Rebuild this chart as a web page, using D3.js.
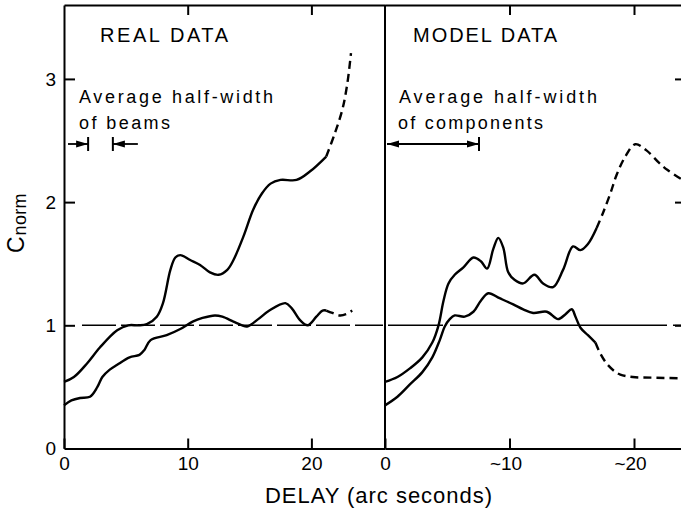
<!DOCTYPE html>
<html><head><meta charset="utf-8">
<script src="https://cdn.jsdelivr.net/npm/d3@7"></script>
<style>body{margin:0;background:#fff}svg{display:block}text{font-family:"Liberation Sans",Arial,sans-serif;fill:#000}</style>
</head><body><svg id="c" width="681" height="509"></svg>
<script>
// ---- data ----
const yTicks = [0, 1, 2, 3];
const leftXTicks = [0, 10, 20];
const leftXLabels = ["0", "10", "20"];
const rightXTicks = [0, 10, 20];
const rightXLabels = ["0", "~10", "~20"];
const panelTitles = ["REAL DATA", "MODEL DATA"];
const beamBars = [1.95, 3.95];       // half-width of beams markers (arcsec)
const componentBar = 7.55;            // half-width of components marker
const refLevel = 1;

const realUpperSolid = [[0,0.54],[0.8,0.58],[1.86,0.69],[2.9,0.82],[4.3,0.96],[5.2,1.0],[6.0,1.0],[6.7,1.01],[7.5,1.07],[8.0,1.18],[8.6,1.45],[9.0,1.55],[9.4,1.57],[10.2,1.53],[11.0,1.49],[11.8,1.43],[12.5,1.41],[13.2,1.45],[13.7,1.53],[14.5,1.72],[15.3,1.94],[16.0,2.07],[16.7,2.15],[17.5,2.18],[18.8,2.18],[19.9,2.25],[21.2,2.37]];
const realUpperDash = [[21.2,2.37],[21.9,2.56],[22.5,2.75],[22.9,2.96],[23.2,3.21]];
const realLowerSolid = [[0,0.35],[0.6,0.39],[1.3,0.41],[2.1,0.42],[2.7,0.5],[3.1,0.58],[3.7,0.64],[4.3,0.68],[5.3,0.74],[6.1,0.76],[6.5,0.8],[7.0,0.88],[8.3,0.92],[9.4,0.97],[10.4,1.03],[11.2,1.06],[12.2,1.08],[12.8,1.07],[13.7,1.03],[14.4,1.0],[14.8,0.99],[15.7,1.05],[16.6,1.12],[17.9,1.18],[18.4,1.14],[19.1,1.04],[19.7,1.0],[20.4,1.07],[20.9,1.12],[21.2,1.12]];
const realLowerDash = [[21.2,1.12],[21.7,1.10],[22.3,1.08],[22.8,1.09],[23.3,1.12]];

const modelUpperSolid = [[0,0.54],[1,0.58],[2,0.65],[3,0.74],[3.8,0.86],[4.3,1.0],[4.7,1.2],[5.1,1.34],[5.6,1.41],[6.3,1.47],[7.1,1.55],[7.7,1.52],[8.2,1.46],[8.7,1.62],[9.1,1.71],[9.5,1.63],[9.9,1.43],[10.4,1.37],[11.1,1.34],[12.0,1.41],[12.7,1.34],[13.5,1.31],[14.3,1.45],[15.1,1.64],[15.7,1.61],[16.3,1.66],[17.0,1.79]];
const modelUpperDash = [[17.0,1.79],[17.5,1.91],[18.1,2.07],[18.6,2.22],[19.3,2.37],[20.1,2.47],[21.0,2.42],[22.0,2.32],[22.7,2.26],[23.9,2.18]];
const modelLowerSolid = [[0,0.35],[1,0.42],[2,0.52],[3,0.62],[3.8,0.74],[4.4,0.88],[4.8,0.99],[5.2,1.05],[5.6,1.08],[6.4,1.07],[7.1,1.11],[7.7,1.2],[8.3,1.26],[9.2,1.22],[10.3,1.17],[11.1,1.13],[11.9,1.1],[13.0,1.11],[13.9,1.05],[14.5,1.09],[15.0,1.13],[15.3,1.07],[15.7,0.98],[16.3,0.92],[16.9,0.86]];
const modelLowerDash = [[16.9,0.86],[17.3,0.77],[17.8,0.69],[18.4,0.63],[18.9,0.6],[19.9,0.58],[21.5,0.575],[23.9,0.57]];

// ---- layout ----
const svg = d3.select("#c");
const X0 = 64, XD = 385, XR = 682, YT = 5, YB = 448.5;
const y = d3.scaleLinear().domain([0, 3.6]).range([YB, YT]);
const xL = d3.scaleLinear().domain([0, (XD - X0) / 12.37]).range([X0, XD]);
const xR = d3.scaleLinear().domain([0, (XR - XD) / 12.45]).range([XD, XR]);

const axisStyle = g => {
  g.selectAll("path,line").attr("stroke", "#000").attr("stroke-width", 2);
  g.selectAll("text").attr("font-size", 19).attr("font-family", "Liberation Sans, Arial, sans-serif");
};

// bottom axes
svg.append("g").attr("transform", `translate(0,${YB})`)
  .call(d3.axisBottom(xL).tickValues(leftXTicks).tickFormat((d, i) => leftXLabels[i]).tickSize(-10).tickSizeOuter(0).tickPadding(8))
  .call(axisStyle);
svg.append("g").attr("transform", `translate(0,${YB})`)
  .call(d3.axisBottom(xR).tickValues(rightXTicks).tickFormat((d, i) => rightXLabels[i]).tickSize(-10).tickSizeOuter(0).tickPadding(8))
  .call(axisStyle)
  .selectAll(".tick text").attr("dx", (d, i) => i > 0 ? "-4" : "0");
// top axes
svg.append("g").attr("transform", `translate(0,${YT})`)
  .call(d3.axisTop(xL).tickValues([10, 20]).tickFormat("").tickSize(-10).tickSizeOuter(0)).call(axisStyle);
svg.append("g").attr("transform", `translate(0,${YT})`)
  .call(d3.axisTop(xR).tickValues([10, 20]).tickFormat("").tickSize(-10).tickSizeOuter(0)).call(axisStyle);
// left axis
svg.append("g").attr("transform", `translate(${X0},0)`)
  .call(d3.axisLeft(y).tickValues(yTicks).tickSize(-11).tickSizeOuter(0).tickPadding(8).tickFormat(d3.format("d")))
  .call(axisStyle)
  .selectAll(".tick line").filter(d => d === 0).remove();
// divider
svg.append("line").attr("x1", XD).attr("x2", XD).attr("y1", YT).attr("y2", YB).attr("stroke", "#000").attr("stroke-width", 2);
// right frame
svg.append("g").attr("transform", `translate(${XR},0)`)
  .call(d3.axisRight(y).tickValues([1, 2, 3]).tickFormat("").tickSize(-7).tickSizeOuter(0)).call(axisStyle);

// reference level lines
svg.append("line").attr("x1", X0 + 18).attr("x2", XD - 2).attr("y1", y(refLevel)).attr("y2", y(refLevel))
  .attr("stroke", "#000").attr("stroke-width", 1.6).attr("stroke-dasharray", "34,5");
svg.append("line").attr("x1", XD + 3).attr("x2", XR).attr("y1", y(refLevel)).attr("y2", y(refLevel))
  .attr("stroke", "#000").attr("stroke-width", 1.6).attr("stroke-dasharray", "55,7,217,6,40");

// curves
const mk = xs => d3.line().x(d => xs(d[0])).y(d => y(d[1])).curve(d3.curveCatmullRom.alpha(0.5));
const draw = (data, xs, dashed) => svg.append("path").datum(data).attr("d", mk(xs))
  .attr("fill", "none").attr("stroke", "#000").attr("stroke-width", 2.4)
  .attr("stroke-linejoin", "round").attr("stroke-dasharray", dashed ? "8,5" : null);
draw(realUpperSolid, xL, false); draw(realUpperDash, xL, true);
draw(realLowerSolid, xL, false); draw(realLowerDash, xL, true);
draw(modelUpperSolid, xR, false); draw(modelUpperDash, xR, true);
draw(modelLowerSolid, xR, false); draw(modelLowerDash, xR, true);

// titles
const txt = (s, x, yy, size, len) => svg.append("text").attr("x", x).attr("y", yy).attr("font-size", size)
  .attr("textLength", len).attr("lengthAdjust", "spacing").text(s);
txt(panelTitles[0], 100, 42, 20, 128);
txt(panelTitles[1], 413, 42, 20, 144);
txt("Average half-width", 79, 103, 18, 194);
txt("of beams", 79, 129, 18, 91);
txt("Average half-width", 399, 103, 18, 198);
txt("of components", 398, 129, 18, 145);
txt("DELAY (arc seconds)", 265, 503, 22, 227);

// y label C_norm
const yl = svg.append("text").attr("transform", "translate(24,253) rotate(-90)").attr("font-size", 23);
yl.append("tspan").text("C");
yl.append("tspan").attr("font-size", 18).attr("dy", 2).attr("dx", 1).attr("textLength", 42).attr("lengthAdjust", "spacing").text("norm");

// half-width arrows
const ay = 144;
const head = (tip, dir) => svg.append("path")
  .attr("d", `M${tip},${ay} L${tip - dir * 12},${ay - 3.5} L${tip - dir * 12},${ay + 3.5} Z`).attr("fill", "#000");
const seg = (x1, x2) => svg.append("line").attr("x1", x1).attr("x2", x2).attr("y1", ay).attr("y2", ay).attr("stroke", "#000").attr("stroke-width", 1.8);
const bar = x => svg.append("line").attr("x1", x).attr("x2", x).attr("y1", ay - 7).attr("y2", ay + 7).attr("stroke", "#000").attr("stroke-width", 2);
// beams
bar(xL(beamBars[0])); seg(X0 + 4, xL(beamBars[0])); head(xL(beamBars[0]), 1);
bar(xL(beamBars[1])); seg(xL(beamBars[1]), xL(beamBars[1]) + 25); head(xL(beamBars[1]), -1);
// components
bar(xR(componentBar)); seg(XD + 2, xR(componentBar)); head(xR(componentBar), 1); head(XD + 2, -1);
</script></body></html>
